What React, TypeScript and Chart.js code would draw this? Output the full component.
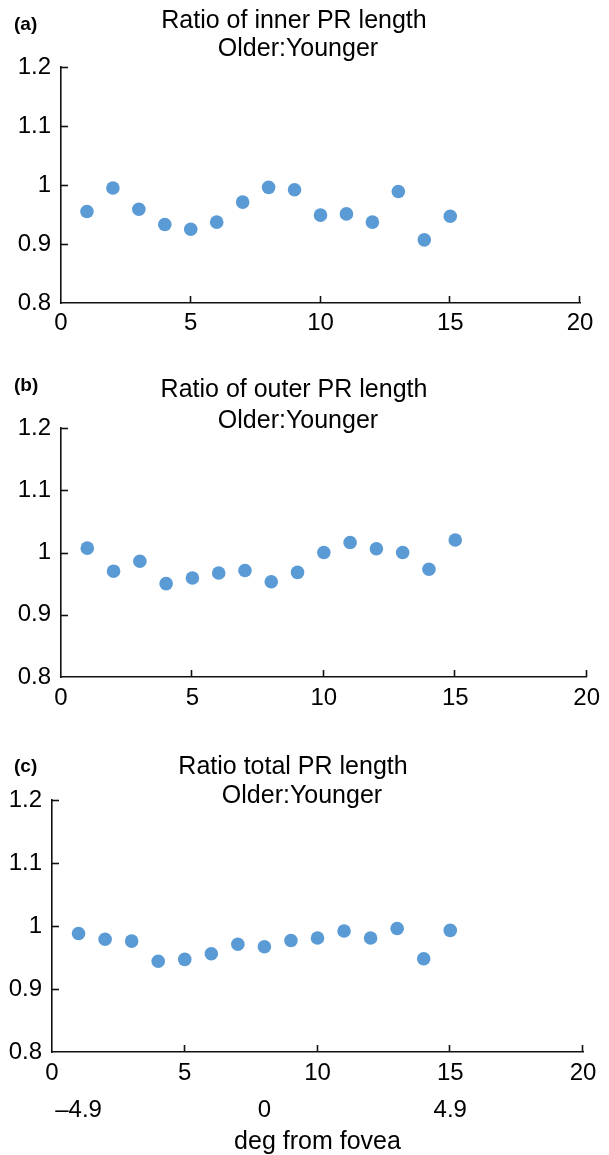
import React, { useEffect, useRef } from "react";
import { Chart, registerables } from "chart.js";

Chart.register(...registerables);

// ---- data ----
const POSITIONS = [1, 2, 3, 4, 5, 6, 7, 8, 9, 10, 11, 12, 13, 14, 15];
const INNER_RATIO = [0.955, 0.995, 0.959, 0.933, 0.925, 0.937, 0.971, 0.996, 0.992, 0.949, 0.951, 0.937, 0.989, 0.907, 0.947];
const OUTER_RATIO = [1.007, 0.970, 0.986, 0.950, 0.959, 0.967, 0.971, 0.953, 0.968, 1.000, 1.016, 1.006, 1.000, 0.973, 1.020];
const TOTAL_RATIO = [0.988, 0.979, 0.976, 0.944, 0.947, 0.956, 0.971, 0.967, 0.977, 0.981, 0.992, 0.981, 0.996, 0.948, 0.993];
const Y_TICKS = [0.8, 0.9, 1, 1.1, 1.2];
const X_TICKS = [0, 5, 10, 15, 20];
const DEG_POSITIONS = [1, 8, 15];
const DEG_LABELS = ["\u20134.9", "0", "4.9"];
const DEG_TITLE = "deg from fovea";
const TITLE_A = ["Ratio of inner PR length", "Older:Younger"];
const TITLE_B = ["Ratio of outer PR length", "Older:Younger"];
const TITLE_C = ["Ratio total PR length", "Older:Younger"];
const PANEL_LABELS = ["(a)", "(b)", "(c)"];

// ---- styles ----
const FONT = "'Liberation Sans', Arial, Helvetica, sans-serif";
const POINT_COLOR = "#5B9BD5";
const AXIS_COLOR = "#111111";
const AXIS_WIDTH = 1.6;
const TICK_LEN = 7;
const TICK_FONT = { size: 24, family: FONT, lineHeight: 1 };
const TITLE_SIZE = 25;

const innerTicks = {
  id: "innerTicks",
  afterDraw(chart: any) {
    const { ctx, chartArea, scales } = chart;
    const xs = scales.x;
    const ys = scales.y;
    ctx.save();
    ctx.strokeStyle = AXIS_COLOR;
    ctx.lineWidth = AXIS_WIDTH;
    xs.ticks.forEach((t: any) => {
      if (t.value === xs.min) return;
      const px = Math.round(xs.getPixelForValue(t.value)) - 0.5;
      ctx.beginPath();
      ctx.moveTo(px, chartArea.bottom);
      ctx.lineTo(px, chartArea.bottom - TICK_LEN);
      ctx.stroke();
    });
    ys.ticks.forEach((t: any) => {
      if (Math.abs(t.value - ys.min) < 1e-9) return;
      const py = Math.round(ys.getPixelForValue(t.value)) + 0.5;
      ctx.beginPath();
      ctx.moveTo(chartArea.left, py);
      ctx.lineTo(chartArea.left + TICK_LEN, py);
      ctx.stroke();
    });
    ctx.restore();
  },
};

const panelText = {
  id: "panelText",
  afterDraw(chart: any, _args: any, opts: any) {
    const { ctx } = chart;
    ctx.save();
    ctx.fillStyle = "#000";
    ctx.textBaseline = "middle";
    ctx.textAlign = "center";
    ctx.font = `${TITLE_SIZE}px ${FONT}`;
    (opts.lines || []).forEach((l: any) => ctx.fillText(l.text, l.x, l.y));
    ctx.textAlign = "left";
    ctx.font = `bold 19px ${FONT}`;
    ctx.fillText(opts.label, opts.labelX, opts.labelY);
    ctx.restore();
  },
};

type PanelCfg = {
  values: number[];
  title: string[];
  label: string;
  top: number;
  height: number;
  padTop: number;
  padRight: number;
  yWidth: number;
  xHeight: number;
  xPad: number;
  x2Height?: number;
  titleY: [number, number];
  titleX: [number, number];
  labelY: number;
  showDeg?: boolean;
};

function Panel({ cfg }: { cfg: PanelCfg }) {
  const ref = useRef<HTMLCanvasElement | null>(null);
  useEffect(() => {
    if (!ref.current) return;
    Chart.defaults.font.family = FONT;
    Chart.defaults.color = "#000";
    const scales: any = {
      x: {
        type: "linear",
        position: "bottom",
        min: 0,
        max: 20,
        weight: 0,
        afterBuildTicks: (s: any) => {
          s.ticks = X_TICKS.map((v) => ({ value: v }));
        },
        afterFit: (s: any) => {
          s.height = cfg.xHeight;
        },
        grid: { display: false, drawTicks: false },
        border: { display: true, color: AXIS_COLOR, width: AXIS_WIDTH },
        ticks: { font: TICK_FONT, color: "#000", padding: cfg.xPad, maxRotation: 0 },
      },
      y: {
        type: "linear",
        min: 0.8,
        max: 1.2,
        afterBuildTicks: (s: any) => {
          s.ticks = Y_TICKS.map((v) => ({ value: v }));
        },
        afterFit: (s: any) => {
          s.width = cfg.yWidth;
        },
        grid: { display: false, drawTicks: false },
        border: { display: true, color: AXIS_COLOR, width: AXIS_WIDTH },
        ticks: {
          font: TICK_FONT,
          color: "#000",
          padding: 10,
          callback: (v: any) => String(Number(Number(v).toFixed(1))),
        },
      },
    };
    if (cfg.showDeg) {
      scales.x2 = {
        type: "linear",
        position: "bottom",
        min: 0,
        max: 20,
        weight: 1,
        afterBuildTicks: (s: any) => {
          s.ticks = DEG_POSITIONS.map((v) => ({ value: v }));
        },
        afterFit: (s: any) => {
          s.height = cfg.x2Height;
        },
        grid: { display: false, drawTicks: false },
        border: { display: false },
        ticks: {
          font: TICK_FONT,
          color: "#000",
          padding: 12,
          maxRotation: 0,
          autoSkip: false,
          callback: (_v: any, i: number) => DEG_LABELS[i],
        },
        title: {
          display: true,
          text: DEG_TITLE,
          font: { size: TITLE_SIZE, family: FONT, lineHeight: 1 },
          color: "#000",
          padding: { top: 0, bottom: 0 },
        },
      };
    }
    const chart = new Chart(ref.current, {
      type: "scatter",
      data: {
        datasets: [
          {
            data: POSITIONS.map((p, i) => ({ x: p, y: cfg.values[i] })),
            backgroundColor: POINT_COLOR,
            borderWidth: 0,
            pointRadius: 6.8,
            pointHoverRadius: 6.8,
          },
        ],
      },
      options: {
        responsive: false,
        animation: false,
        devicePixelRatio: 1,
        layout: { padding: { top: cfg.padTop, right: cfg.padRight, left: 0, bottom: 0 } },
        scales,
        plugins: {
          legend: { display: false },
          tooltip: { enabled: false },
          title: { display: false },
          panelText: {
            lines: [
              { text: cfg.title[0], x: cfg.titleX[0], y: cfg.titleY[0] },
              { text: cfg.title[1], x: cfg.titleX[1], y: cfg.titleY[1] },
            ],
            label: cfg.label,
            labelX: 14,
            labelY: cfg.labelY,
          },
        } as any,
      },
      plugins: [innerTicks, panelText],
    } as any);
    return () => chart.destroy();
  }, [cfg]);
  return (
    <canvas
      ref={ref}
      width={609}
      height={cfg.height}
      style={{ position: "absolute", left: 0, top: cfg.top, width: 609, height: cfg.height, display: "block" }}
    />
  );
}

const PANELS: PanelCfg[] = [
  {
    values: INNER_RATIO,
    title: TITLE_A,
    label: PANEL_LABELS[0],
    top: 0,
    height: 345,
    padTop: 67,
    padRight: 29,
    yWidth: 61,
    xHeight: 42,
    xPad: 8,
    titleX: [294, 298],
    titleY: [21, 49],
    labelY: 25,
  },
  {
    values: OUTER_RATIO,
    title: TITLE_B,
    label: PANEL_LABELS[1],
    top: 355,
    height: 365,
    padTop: 73,
    padRight: 16,
    yWidth: 61,
    xHeight: 43,
    xPad: 9,
    titleX: [294, 298],
    titleY: [35, 66],
    labelY: 31,
  },
  {
    values: TOTAL_RATIO,
    title: TITLE_C,
    label: PANEL_LABELS[2],
    top: 740,
    height: 415,
    padTop: 60,
    padRight: 26,
    yWidth: 52,
    xHeight: 34,
    xPad: 9,
    x2Height: 69,
    titleX: [293, 302],
    titleY: [27, 56],
    labelY: 27,
    showDeg: true,
  },
];

export default function App() {
  return (
    <div style={{ position: "absolute", left: 0, top: 0, width: 609, height: 1155, background: "#fff" }}>
      {PANELS.map((p, i) => (
        <Panel key={i} cfg={p} />
      ))}
    </div>
  );
}
